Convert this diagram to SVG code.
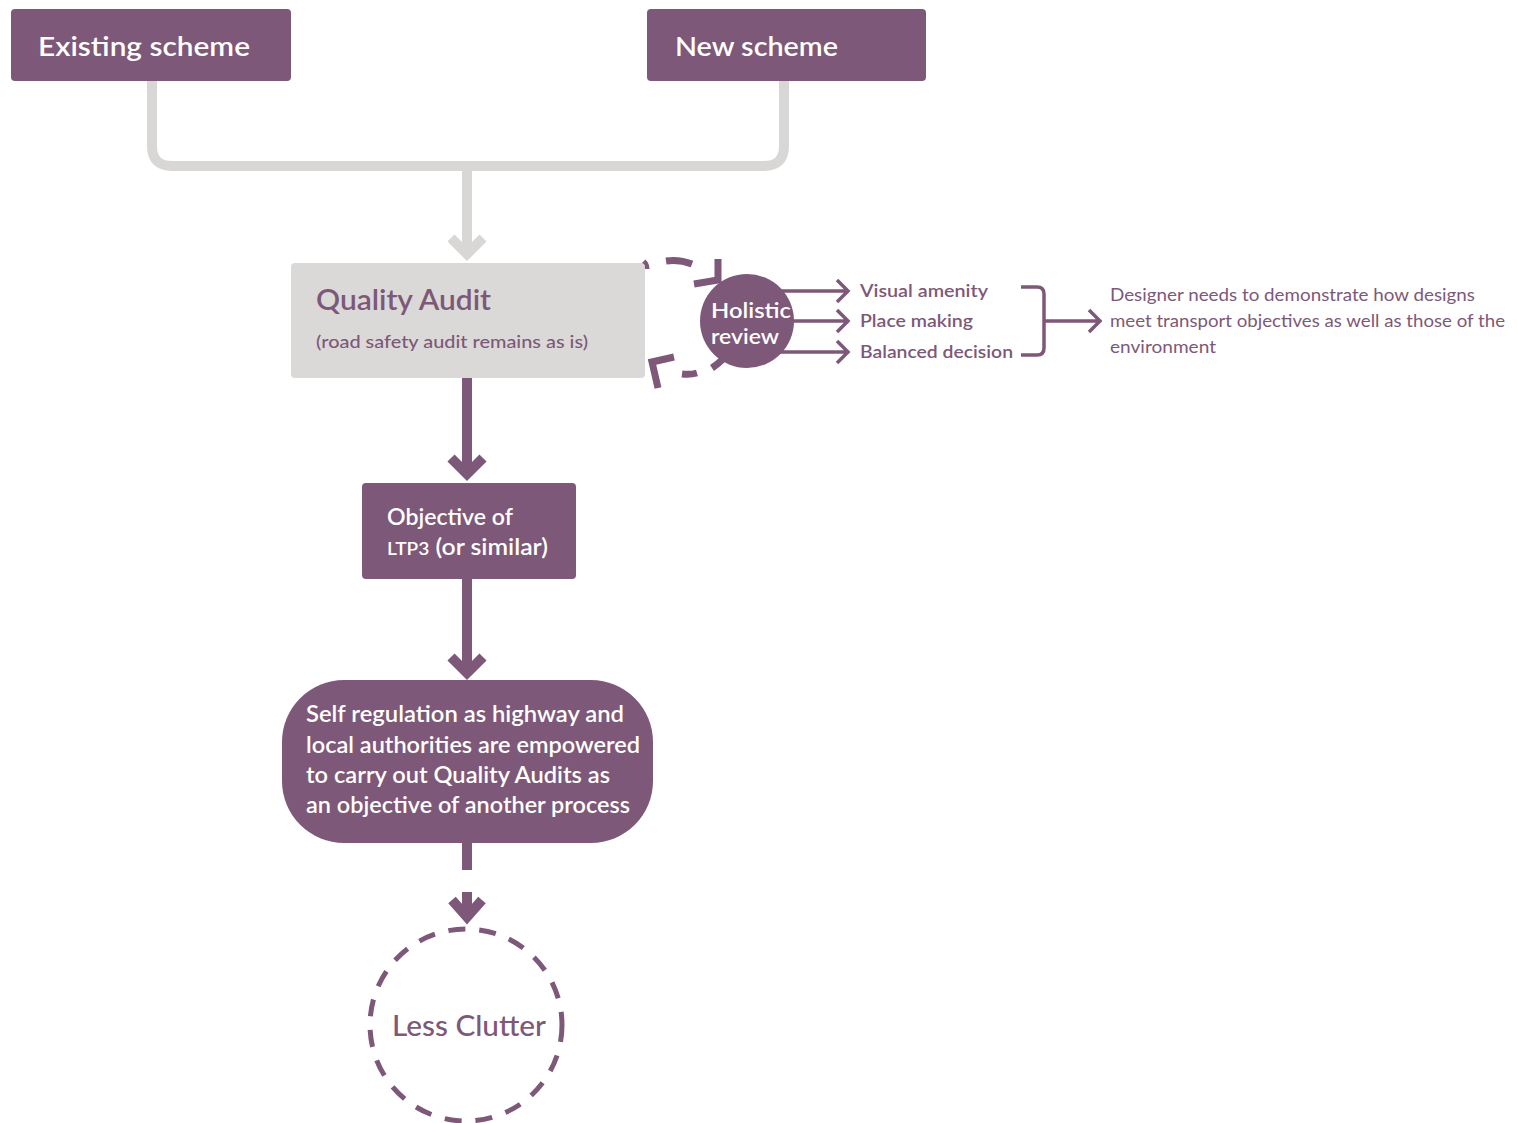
<svg xmlns="http://www.w3.org/2000/svg" width="1517" height="1123" viewBox="0 0 1517 1123">
<style>
.pbox{fill:#7d5878}
.wt{fill:#ffffff;font-family:Lato,"Open Sans","Liberation Sans",sans-serif;font-weight:600}
.pt{fill:#7d5878;font-family:Lato,"Open Sans","Liberation Sans",sans-serif}
.gray{fill:none;stroke:#d9d7d5;stroke-width:10}
.pl{fill:none;stroke:#7d5878;stroke-width:10}
.thin{fill:none;stroke:#7d5878;stroke-width:3.5}
.dsh{fill:none;stroke:#7d5878;stroke-width:7}
</style>
<rect width="1517" height="1123" fill="#ffffff"/>
<g id="connectors">
  <path class="gray" d="M152,81 V146 Q152,166 172,166 H764 Q784,166 784,146 V81"/>
  <path class="gray" d="M467,166 V253"/>
  <path class="gray" d="M451,238 L467,254 L483,238"/>
  <path class="pl" d="M467,378 V474"/>
  <path class="pl" d="M451,458 L467,474 L483,458"/>
  <path class="pl" d="M467,579 V673"/>
  <path class="pl" d="M451,657 L467,673 L483,657"/>
  <path class="pl" d="M467,843 V870"/>
  <path class="pl" d="M467,892 V918"/>
  <path class="pl" d="M452,900 L467,917 L482,900"/>
  <path class="dsh" stroke-width="4" d="M643,262 Q646,265 646,269"/>
  <path class="dsh" d="M666,261 Q679,259 692,264"/>
  <path class="dsh" d="M718,259 V280 L694,284"/>
  <path class="dsh" d="M723,359 Q718,364 712,368"/>
  <path class="dsh" d="M697,373 Q690,375 682,374"/>
  <path class="dsh" d="M674,357 L652,362 L658,388"/>
  <path class="thin" d="M780,291 H848 M837,280 L848,291 L837,302"/>
  <path class="thin" d="M790,321 H848 M837,310 L848,321 L837,332"/>
  <path class="thin" d="M780,352 H848 M837,341 L848,352 L837,363"/>
  <path class="thin" d="M1021,287 H1037 Q1044,287 1044,294 V348 Q1044,355 1037,355 H1021"/>
  <path class="thin" d="M1044,321 H1100 M1089,310 L1100,321 L1089,332"/>
</g>
<g id="existing-scheme">
  <rect class="pbox" x="11" y="9" width="280" height="72" rx="4"/>
  <text class="wt" x="38" y="56" font-size="27" textLength="212" lengthAdjust="spacingAndGlyphs">Existing scheme</text>
</g>
<g id="new-scheme">
  <rect class="pbox" x="647" y="9" width="279" height="72" rx="4"/>
  <text class="wt" x="675" y="56" font-size="27" textLength="163" lengthAdjust="spacingAndGlyphs">New scheme</text>
</g>
<g id="quality-audit">
  <rect x="291" y="263" width="354" height="115" rx="4" fill="#dbd9d7"/>
  <text class="pt" x="316" y="310" font-size="29" font-weight="600" textLength="175" lengthAdjust="spacingAndGlyphs">Quality Audit</text>
  <text class="pt" x="316" y="348" font-size="18" font-weight="500" textLength="272" lengthAdjust="spacingAndGlyphs">(road safety audit remains as is)</text>
</g>
<g id="holistic-review">
  <circle cx="747" cy="321" r="47" class="pbox"/>
  <text class="wt" x="711" y="318" font-size="21" textLength="80" lengthAdjust="spacingAndGlyphs">Holistic</text>
  <text class="wt" x="711" y="344" font-size="21" textLength="68" lengthAdjust="spacingAndGlyphs">review</text>
</g>
<g id="items">
  <text class="pt" x="860" y="297" font-size="17" font-weight="600" textLength="128" lengthAdjust="spacingAndGlyphs">Visual amenity</text>
  <text class="pt" x="860" y="327" font-size="17" font-weight="600" textLength="113" lengthAdjust="spacingAndGlyphs">Place making</text>
  <text class="pt" x="860" y="358" font-size="17" font-weight="600" textLength="153" lengthAdjust="spacingAndGlyphs">Balanced decision</text>
</g>
<g id="designer-note">
  <text class="pt" x="1110" y="301" font-size="17" textLength="365" lengthAdjust="spacingAndGlyphs">Designer needs to demonstrate how designs</text>
  <text class="pt" x="1110" y="327" font-size="17" textLength="395" lengthAdjust="spacingAndGlyphs">meet transport objectives as well as those of the</text>
  <text class="pt" x="1110" y="353" font-size="17" textLength="106" lengthAdjust="spacingAndGlyphs">environment</text>
</g>
<g id="objective">
  <rect class="pbox" x="362" y="483" width="214" height="96" rx="4"/>
  <text class="wt" x="387" y="525" font-size="22" textLength="126" lengthAdjust="spacingAndGlyphs">Objective of</text>
  <text class="wt" x="387" y="555" font-size="22" textLength="161" lengthAdjust="spacingAndGlyphs"><tspan font-size="17">LTP3</tspan> (or similar)</text>
</g>
<g id="self-regulation">
  <rect class="pbox" x="282" y="680" width="371" height="163" rx="62"/>
  <text class="wt" x="306" y="722" font-size="22" textLength="318" lengthAdjust="spacingAndGlyphs">Self regulation as highway and</text>
  <text class="wt" x="306" y="753" font-size="22" textLength="334" lengthAdjust="spacingAndGlyphs">local authorities are empowered</text>
  <text class="wt" x="306" y="783" font-size="22" textLength="304" lengthAdjust="spacingAndGlyphs">to carry out Quality Audits as</text>
  <text class="wt" x="306" y="813" font-size="22" textLength="324" lengthAdjust="spacingAndGlyphs">an objective of another process</text>
</g>
<g id="less-clutter">
  <circle cx="466" cy="1025" r="96" fill="none" stroke="#7d5878" stroke-width="5" stroke-dasharray="17 14"/>
  <text class="pt" x="392" y="1036" font-size="28" font-weight="500" textLength="154" lengthAdjust="spacingAndGlyphs">Less Clutter</text>
</g>
</svg>
